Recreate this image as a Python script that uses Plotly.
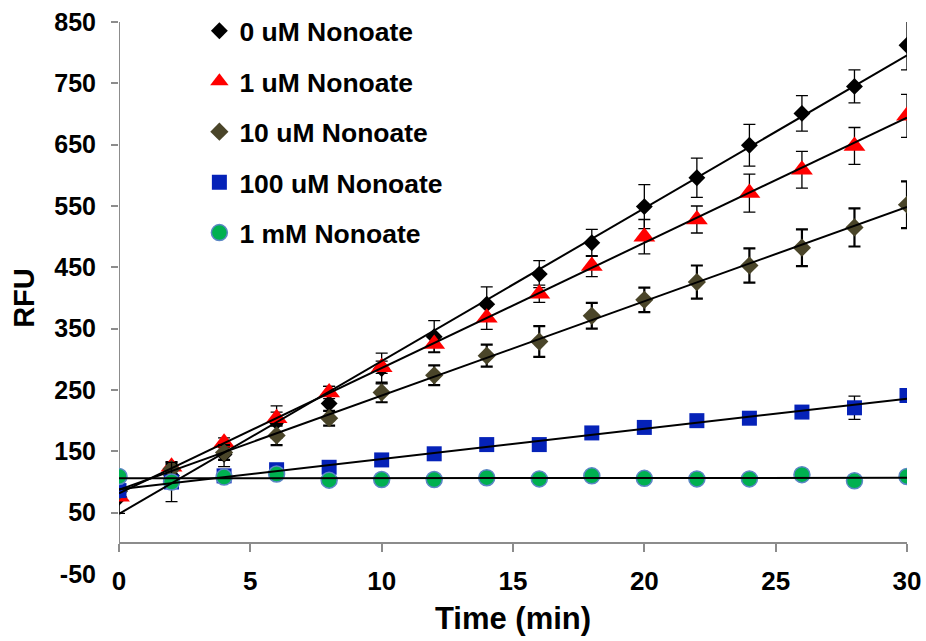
import numpy as np
import plotly.graph_objects as go

# ---- data ----
time_min = [0, 2, 4, 6, 8, 10, 12, 14, 16, 18, 20, 22, 24, 26, 28, 30]

rfu_0uM = [75, 110, 145, 198, 228, 285, 337, 390, 439, 490, 549, 596, 649, 701, 745, 812]
err_0uM = [26, 15, 20, 26, 28, 25, 26, 28, 22, 22, 36, 32, 34, 29, 27, 40]

rfu_1uM = [76, 125, 164, 204, 246, 287, 325, 368, 407, 452, 500, 528, 571, 609, 648, 697]
err_1uM = [5, 8, 8, 10, 10, 10, 13, 19, 14, 17, 28, 22, 31, 30, 30, 35]

rfu_10uM = [85, 121, 148, 176, 204, 246, 274, 306, 329, 371, 397, 426, 453, 482, 515, 552]
err_10uM = [5, 8, 12, 16, 12, 16, 16, 18, 25, 21, 20, 27, 28, 30, 31, 38]

rfu_100uM = [86, 100, 110, 120, 124, 136, 146, 161, 161, 180, 189, 200, 204, 214, 221, 241]
err_100uM = [4, 32, 4, 4, 4, 4, 4, 4, 4, 4, 4, 8, 4, 4, 19, 4]

rfu_1mM = [109, 100, 108, 113, 103, 104, 104, 107, 105, 110, 106, 105, 105, 112, 102, 109]
err_1mM = [3, 3, 3, 3, 3, 3, 3, 3, 3, 3, 3, 3, 3, 3, 3, 3]

series_names = ["0 uM Nonoate", "1 uM Nonoate", "10 uM Nonoate", "100 uM Nonoate", "1 mM Nonoate"]

y_ticks = [-50, 50, 150, 250, 350, 450, 550, 650, 750, 850]
y_ticktext = ["-50", "50", "150", "250", "350", "450", "550", "650", "750", "850"]
x_ticks = [0, 5, 10, 15, 20, 25, 30]

# ---- styles ----
FONT = "Liberation Sans, Arial, sans-serif"
AXIS_GREY = "#8c8c8c"

styles = [
    dict(symbol="diamond", size=13, color="#000000", line=dict(width=0), eth=1.3),
    dict(symbol="triangle-up", size=19, color="#ff0000", line=dict(width=0), eth=1.3),
    dict(symbol="diamond", size=14, color="#4a4529", line=dict(width=0), eth=2.2),
    dict(symbol="square", size=15, color="#0522b8", line=dict(width=0), eth=1.3),
    dict(symbol="circle", size=16, color="#00b050", line=dict(width=1.5, color="#5b86c5"), eth=1.3),
]

ys = [rfu_0uM, rfu_1uM, rfu_10uM, rfu_100uM, rfu_1mM]
errs = [err_0uM, err_1uM, err_10uM, err_100uM, err_1mM]

fig = go.Figure()

for name, y, e, st in zip(series_names, ys, errs, styles):
    fig.add_trace(go.Scatter(
        x=time_min, y=y, mode="markers", name=name, legendgroup=name,
        marker=dict(symbol=st["symbol"], size=st["size"], color=st["color"], line=st["line"]),
        error_y=dict(type="data", array=e, visible=True, color="#000000",
                     thickness=st["eth"], width=6),
    ))

# linear trendlines (least-squares fit of each series)
for name, y in zip(series_names, ys):
    slope, intercept = np.polyfit(time_min, y, 1)
    xs = [min(time_min), max(time_min)]
    fig.add_trace(go.Scatter(
        x=xs, y=[intercept + slope * v for v in xs], mode="lines",
        line=dict(color="#000000", width=2), showlegend=False, hoverinfo="skip",
    ))

# y-axis line from 0 to top (x axis crosses at y=0)
fig.add_shape(type="line", xref="x", yref="y", x0=0, x1=0, y0=0, y1=850,
              line=dict(color=AXIS_GREY, width=2), layer="below")

fig.update_layout(
    width=926, height=641,
    margin=dict(l=119, r=19, t=22, b=67, autoexpand=False),
    paper_bgcolor="white", plot_bgcolor="white",
    font=dict(family=FONT, color="#000000"),
    xaxis=dict(
        range=[0, 30], tickvals=x_ticks, anchor="free", position=50 / 900,
        showline=True, linecolor=AXIS_GREY, linewidth=2,
        ticks="outside", ticklen=8, tickwidth=2, tickcolor=AXIS_GREY,
        tickfont=dict(size=26, family=FONT, weight="bold"),
        ticklabelstandoff=6, automargin=False,
        showgrid=False, zeroline=False,
        title=dict(text="Time (min)", font=dict(size=31, family=FONT, weight="bold"), standoff=12),
    ),
    yaxis=dict(
        range=[-50, 850], tickvals=y_ticks, ticktext=y_ticktext, ticks="",
        showline=False, showgrid=False, zeroline=False, automargin=False,
        tickfont=dict(size=25, family=FONT, weight="bold"),
        ticklabelstandoff=22,
        title=dict(text="RFU", font=dict(size=29, family=FONT, weight="bold"), standoff=11),
    ),
    yaxis2=dict(
        range=[-50, 850], overlaying="y", side="left", tickvals=y_ticks[1:],
        ticks="outside", ticklen=7, tickwidth=2, tickcolor=AXIS_GREY, automargin=False,
        showticklabels=False, showline=False, showgrid=False, zeroline=False,
    ),
    legend=dict(
        x=0.102, y=1.027, xanchor="left", yanchor="top", xref="paper", yref="paper",
        font=dict(size=26.5, family=FONT, weight="bold"),
        bgcolor="rgba(0,0,0,0)", tracegroupgap=13, itemwidth=30,
    ),
    showlegend=True,
)

# dummy invisible trace to keep yaxis2 rendered
fig.add_trace(go.Scatter(x=[None], y=[None], yaxis="y2", showlegend=False, hoverinfo="skip"))

fig.write_html("out.html")
